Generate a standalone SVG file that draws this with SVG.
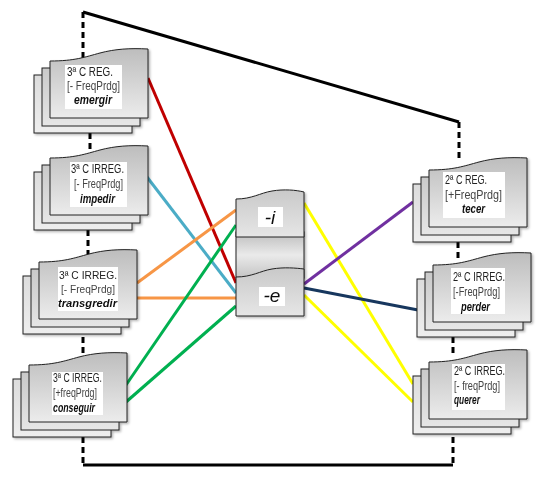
<svg xmlns="http://www.w3.org/2000/svg" xmlns:xlink="http://www.w3.org/1999/xlink" width="549" height="483" viewBox="0 0 549 483">
<defs>
<linearGradient id="gFront" x1="0" y1="0" x2="0" y2="1"><stop offset="0" stop-color="#bdbdbd"/><stop offset="1" stop-color="#ececec"/></linearGradient>
<linearGradient id="gMid" x1="0" y1="0" x2="0" y2="1"><stop offset="0" stop-color="#c9c9c9"/><stop offset="1" stop-color="#e6e6e6"/></linearGradient>
<linearGradient id="gBack" x1="0" y1="0" x2="0" y2="1"><stop offset="0" stop-color="#dcdcdc"/><stop offset="1" stop-color="#eeeeee"/></linearGradient>
<linearGradient id="gBand" x1="0" y1="0" x2="0" y2="1"><stop offset="0" stop-color="#bdbdbd"/><stop offset="0.5" stop-color="#eaeaea"/><stop offset="1" stop-color="#c4c4c4"/></linearGradient>
<filter id="sh" x="-10%" y="-10%" width="130%" height="130%"><feDropShadow dx="1.5" dy="1.5" stdDeviation="1.2" flood-color="#000" flood-opacity="0.3"/></filter>
<g id="stack">
<rect x="-16" y="14" width="98" height="58" fill="url(#gBack)" stroke="#222" stroke-width="1"/>
<rect x="-8" y="7" width="98" height="58" fill="url(#gMid)" stroke="#222" stroke-width="1"/>
<path d="M0,0 C25,0 35,-4 50,-8 C65,-12 80,-13 98,-12 L98,57 L0,57 Z" fill="url(#gFront)" stroke="#222" stroke-width="1"/>
</g>
<style>
.frame{fill:none;stroke:#000;stroke-width:3}
.dash{fill:none;stroke:#000;stroke-width:3;stroke-dasharray:6 4}
.c{fill:none;stroke-width:3;stroke-linecap:butt}
.box{fill:#fff}
.t1{font-family:"Liberation Sans",Arial,sans-serif;font-size:12.5px;fill:#222}
.t2{font-family:"Liberation Sans",Arial,sans-serif;font-size:12.5px;fill:#444}
.t3{font-family:"Liberation Sans",Arial,sans-serif;font-size:12.5px;font-weight:bold;font-style:italic;fill:#111}
.sm{font-size:11px}
.suf{font-family:"Liberation Sans",Arial,sans-serif;font-size:19px;font-style:italic;fill:#111;text-anchor:middle}
</style>
</defs>
<rect width="549" height="483" fill="#fff"/>

<g id="frame">
<polyline class="frame" points="83,12 459,122"/>
<line class="dash" x1="83" y1="12" x2="83" y2="58"/>
<line class="dash" x1="90" y1="133" x2="90" y2="151"/>
<line class="dash" x1="88" y1="230" x2="88" y2="256"/>
<line class="dash" x1="83" y1="337" x2="83" y2="360"/>
<line class="dash" x1="83" y1="437" x2="83" y2="463"/>
<polyline class="frame" points="83,465 453,465"/>
<line class="dash" x1="453" y1="463" x2="453" y2="433"/>
<line class="dash" x1="453" y1="337" x2="453" y2="356"/>
<line class="dash" x1="458" y1="242" x2="458" y2="259"/>
<line class="dash" x1="459" y1="122" x2="459" y2="162"/>
</g>

<g id="connectors">
<line class="c" stroke="#C00000" x1="148" y1="78" x2="236" y2="283"/>
<line class="c" stroke="#4BACC6" x1="147" y1="177" x2="236" y2="293"/>
<line class="c" stroke="#F79646" x1="137" y1="283" x2="236" y2="210"/>
<line class="c" stroke="#F79646" x1="137" y1="298" x2="236" y2="298"/>
<line class="c" stroke="#00B050" x1="126" y1="385" x2="236" y2="225"/>
<line class="c" stroke="#00B050" x1="126" y1="402" x2="236" y2="306"/>
<line class="c" stroke="#FFFF00" x1="304" y1="203" x2="413" y2="384"/>
<line class="c" stroke="#7030A0" x1="304" y1="284" x2="413" y2="202"/>
<line class="c" stroke="#17375E" x1="304" y1="288" x2="418" y2="310"/>
<line class="c" stroke="#FFFF00" x1="304" y1="295" x2="413" y2="402"/>
</g>

<g id="n-emergir" filter="url(#sh)">
<use xlink:href="#stack" href="#stack" x="50" y="61"/>
<rect class="box" x="65" y="65" width="57" height="44"/>
<text class="t1" x="67" y="76" textLength="46" lengthAdjust="spacingAndGlyphs">3ª C REG.</text>
<text class="t2" x="67" y="90" textLength="53" lengthAdjust="spacingAndGlyphs">[- FreqPrdg]</text>
<text class="t3" x="74" y="104" textLength="38" lengthAdjust="spacingAndGlyphs">emergir</text>
</g>

<g id="n-impedir" filter="url(#sh)">
<use xlink:href="#stack" href="#stack" x="50" y="158"/>
<rect class="box" x="70" y="162" width="57" height="45"/>
<text class="t1" x="71" y="173" textLength="53" lengthAdjust="spacingAndGlyphs">3ª C IRREG.</text>
<text class="t2" x="74" y="188" textLength="49" lengthAdjust="spacingAndGlyphs">[- FreqPrdg]</text>
<text class="t3" x="80" y="203" textLength="35" lengthAdjust="spacingAndGlyphs">impedir</text>
</g>

<g id="n-transgredir" filter="url(#sh)">
<use xlink:href="#stack" href="#stack" x="39" y="262"/>
<rect class="box" x="58" y="267" width="60" height="44"/>
<text class="t1 sm" x="59" y="279" textLength="58" lengthAdjust="spacingAndGlyphs">3ª C IRREG.</text>
<text class="t2 sm" x="61" y="292.5" textLength="54" lengthAdjust="spacingAndGlyphs">[- FreqPrdg]</text>
<text class="t3 sm" x="58" y="306.5" textLength="59" lengthAdjust="spacingAndGlyphs">transgredir</text>
</g>

<g id="n-conseguir" filter="url(#sh)">
<use xlink:href="#stack" href="#stack" x="29" y="365"/>
<rect class="box" x="52" y="372" width="51" height="43"/>
<text class="t1" x="53" y="382" textLength="49" lengthAdjust="spacingAndGlyphs">3ª C IRREG.</text>
<text class="t2" x="53" y="397" textLength="44" lengthAdjust="spacingAndGlyphs">[+freqPrdg]</text>
<text class="t3" x="53" y="412" textLength="42" lengthAdjust="spacingAndGlyphs">conseguir</text>
</g>

<g id="n-tecer" filter="url(#sh)">
<use xlink:href="#stack" href="#stack" x="429" y="170"/>
<rect class="box" x="443" y="172" width="62" height="46"/>
<text class="t1" x="445" y="184" textLength="42" lengthAdjust="spacingAndGlyphs">2ª C REG.</text>
<text class="t2" x="445" y="199" textLength="57" lengthAdjust="spacingAndGlyphs">[+FreqPrdg]</text>
<text class="t3" x="462" y="213" textLength="23" lengthAdjust="spacingAndGlyphs">tecer</text>
</g>

<g id="n-perder" filter="url(#sh)">
<use xlink:href="#stack" href="#stack" x="433" y="265"/>
<rect class="box" x="451" y="268" width="54" height="46"/>
<text class="t1" x="453" y="281" textLength="52" lengthAdjust="spacingAndGlyphs">2ª C IRREG.</text>
<text class="t2" x="453" y="296" textLength="47" lengthAdjust="spacingAndGlyphs">[-FreqPrdg]</text>
<text class="t3" x="461" y="311" textLength="29" lengthAdjust="spacingAndGlyphs">perder</text>
</g>

<g id="n-querer" filter="url(#sh)">
<use xlink:href="#stack" href="#stack" x="429" y="362"/>
<rect class="box" x="452" y="364" width="53" height="46"/>
<text class="t1" x="454" y="375" textLength="51" lengthAdjust="spacingAndGlyphs">2ª C IRREG.</text>
<text class="t2" x="454" y="389.5" textLength="46" lengthAdjust="spacingAndGlyphs">[- freqPrdg]</text>
<text class="t3" x="454" y="404" textLength="26" lengthAdjust="spacingAndGlyphs">querer</text>
</g>

<g id="n-suffix" filter="url(#sh)">
<rect x="236" y="232" width="68" height="46" fill="url(#gBand)" stroke="#222" stroke-width="1"/>
<path d="M236,199 C252,199 260,193 272,191 C284,189 296,190 304,192 L304,237 L236,237 Z" fill="url(#gMid)" stroke="#222" stroke-width="1"/>
<path d="M236,277 C252,277 260,271 272,269 C284,267 296,268 304,269 L304,316 L236,316 Z" fill="url(#gMid)" stroke="#222" stroke-width="1"/>
<rect class="box" x="258" y="207" width="25" height="20"/>
<text class="suf" x="270" y="224">-i</text>
<rect class="box" x="259" y="287" width="26" height="19"/>
<text class="suf" x="272" y="302">-e</text>
</g>
</svg>
